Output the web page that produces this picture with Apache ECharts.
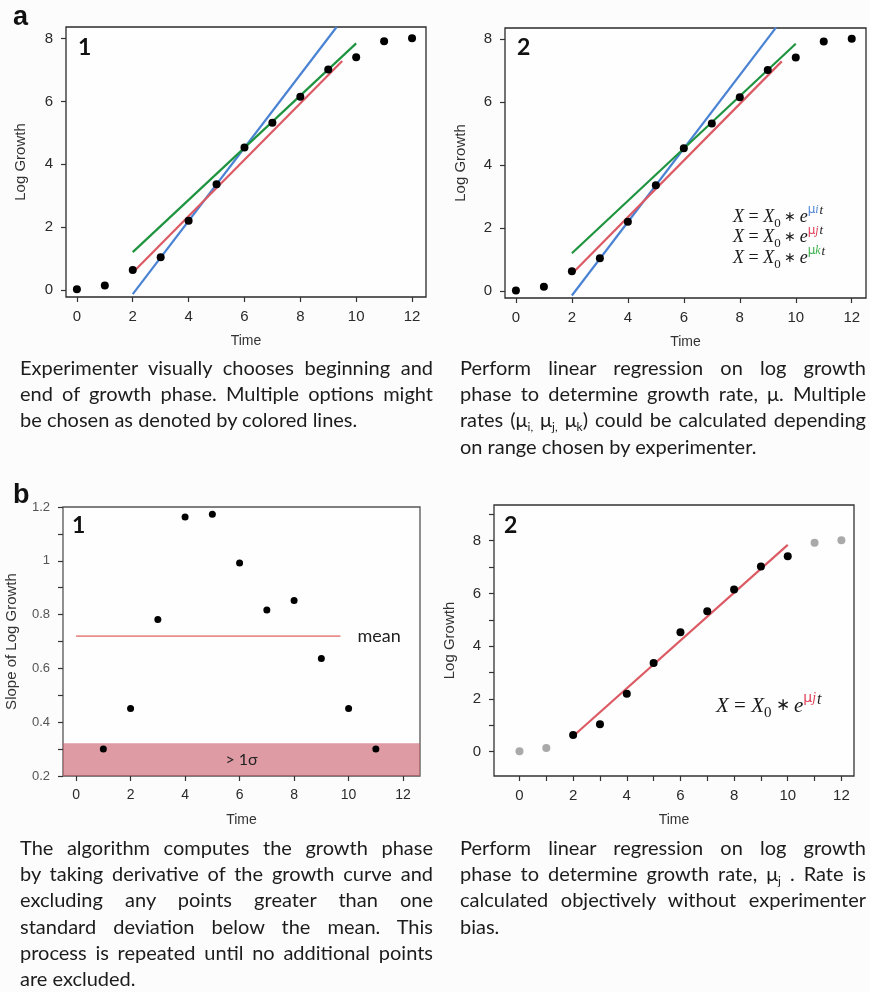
<!DOCTYPE html>
<html><head><meta charset="utf-8">
<script src="https://cdn.jsdelivr.net/npm/echarts@6/dist/echarts.min.js"></script>
<style>
html,body{margin:0;padding:0;background:#fcfcfd;}
#chart{position:absolute;left:0;top:0;width:870px;height:992px;}
.cap{position:absolute;font-family:Lato,'Open Sans',sans-serif;font-size:20px;color:#1c1c1c;white-space:nowrap;}
.cap div{height:26.2px;line-height:26.2px;text-align:justify;text-align-last:justify;}
.cap div.last{text-align-last:left;}
.cap sub{font-size:0.6em;vertical-align:-0.3em;line-height:0;}
</style></head>
<body>
<div id="chart"></div>
<div class="cap" style="left:20px;top:354px;width:413px">
<div>Experimenter visually chooses beginning and</div>
<div>end of growth phase. Multiple options might</div>
<div class="last">be chosen as denoted by colored lines.</div>
</div>
<div class="cap" style="left:460px;top:354px;width:406px">
<div>Perform linear regression on log growth</div>
<div>phase to determine growth rate, μ. Multiple</div>
<div>rates (μ<sub>i,</sub> μ<sub>j,</sub> μ<sub>k</sub>) could be calculated depending</div>
<div class="last">on range chosen by experimenter.</div>
</div>
<div class="cap" style="left:20px;top:834px;width:413px">
<div>The algorithm computes the growth phase</div>
<div>by taking derivative of the growth curve and</div>
<div>excluding any points greater than one</div>
<div>standard deviation below the mean. This</div>
<div>process is repeated until no additional points</div>
<div class="last">are excluded.</div>
</div>
<div class="cap" style="left:460px;top:834px;width:406px">
<div>Perform linear regression on log growth</div>
<div>phase to determine growth rate, μ<sub>j</sub> . Rate is</div>
<div>calculated objectively without experimenter</div>
<div class="last">bias.</div>
</div>
<script>
// ---- data ----
const timeValues = [0,1,2,3,4,5,6,7,8,9,10,11,12];
const logGrowth = [0.02,0.14,0.63,1.04,2.2,3.36,4.53,5.32,6.15,7.02,7.41,7.92,8.01];
const slopeTimes = [1,2,3,4,5,6,7,8,9,10,11];
const slopeValues = [0.30,0.451,0.782,1.163,1.173,0.992,0.817,0.852,0.637,0.451,0.30];
const fitBlue = [[2,-0.14],[9.3,8.37]];
const fitRedA = [[2.1,0.64],[9.5,7.29]];
const fitGreen = [[2,1.2],[10,7.85]];
const fitRedB = [[2.1,0.68],[10,7.84]];
const meanLine = [[0,0.72],[9.7,0.72]];
const sigmaBand = [0.2,0.322];
const excludedTimes = [0,1,11,12];
const timeTicks = [0,2,4,6,8,10,12];
const timeMinorTicks = [0,1,2,3,4,5,6,7,8,9,10,11,12];
const growthTicks = [0,2,4,6,8];
const growthMinorTicks = [0,1,2,3,4,5,6,7,8,9];
const slopeTicks = [0.2,0.4,0.6,0.8,1,1.2];
const slopeMinorTicks = [0.2,0.3,0.4,0.5,0.6,0.7,0.8,0.9,1,1.1,1.2];

const growthPts = timeValues.map((t,i)=>[t,logGrowth[i]]);
const slopePts = slopeTimes.map((t,i)=>[t,slopeValues[i]]);
const inPts = growthPts.filter(p=>excludedTimes.indexOf(p[0])<0);
const outPts = growthPts.filter(p=>excludedTimes.indexOf(p[0])>=0);

const BLUE='#4a82d4', RED='#dc5a64', GREEN='#1f9440';
const FONT='Liberation Sans';

function gridDef(left,top,width,height,border){
  return {left,top,width,height,show:true,borderColor:border||'#2a2a2a',borderWidth:1.3,backgroundColor:'#fefefe',outerBoundsMode:'none'};
}
function xAx(gi,min,max,ticks,labels,fs,gap){
  return {type:'value',gridIndex:gi,min,max,
    axisLine:{show:false,onZero:false},splitLine:{show:false},
    axisTick:{show:true,inside:false,length:5,customValues:ticks,lineStyle:{color:'#333',width:1.2}},
    axisLabel:{customValues:labels,margin:12,fontSize:fs,color:'#2a2a2a',fontFamily:FONT},
    name:'Time',nameLocation:'middle',nameGap:gap,nameTextStyle:{fontSize:14,color:'#333',fontFamily:FONT}};
}
function yAx(gi,min,max,ticks,labels,fs,name,gap,col){
  return {type:'value',gridIndex:gi,min,max,
    axisLine:{show:false,onZero:false},splitLine:{show:false},
    axisTick:{show:true,inside:false,length:5,customValues:ticks,lineStyle:{color:'#333',width:1.2}},
    axisLabel:{customValues:labels,margin:13,fontSize:fs,color:col||'#2a2a2a',fontFamily:FONT},
    name:name,nameLocation:'middle',nameGap:gap,nameRotate:90,nameTextStyle:{fontSize:15,color:'#333',fontFamily:FONT}};
}
function lineS(gi,data,color,z){
  return {type:'line',xAxisIndex:gi,yAxisIndex:gi,data,showSymbol:false,symbol:'none',
    lineStyle:{color,width:2.2},z:z||2,animation:false,silent:true};
}
function dotS(gi,data,color,size,z){
  return {type:'scatter',xAxisIndex:gi,yAxisIndex:gi,data,symbolSize:size,
    itemStyle:{color,opacity:1},z:z||4,animation:false,silent:true};
}
function eqText(x,y,size,col,sub){
  const L=size+8;
  const r=v=>Math.round(v);
  return {type:'text',x,y,style:{
    text:'{x|X}{o| = }{x|X}{s|0}{a| ∗ }{x|e}{m|μ}{mi|'+sub+'}{t|t}',
    verticalAlign:'middle',align:'left',
    rich:{
      x:{fontFamily:'Liberation Serif',fontStyle:'italic',fontSize:size,lineHeight:L,fill:'#1a1a1a'},
      o:{fontFamily:'Liberation Serif',fontSize:size,lineHeight:L,fill:'#1a1a1a'},
      a:{fontFamily:'Liberation Serif',fontSize:r(size*0.8),lineHeight:L,fill:'#1a1a1a'},
      s:{fontFamily:'Liberation Serif',fontSize:r(size*0.7),lineHeight:r(size*0.9),verticalAlign:'bottom',fill:'#1a1a1a'},
      m:{fontFamily:'DejaVu Sans',fontSize:r(size*0.66),lineHeight:r(size*0.85),verticalAlign:'top',fill:col},
      mi:{fontFamily:'Liberation Serif',fontStyle:'italic',fontSize:r(size*0.66),lineHeight:r(size*1.2),verticalAlign:'top',fill:col},
      t:{fontFamily:'Liberation Serif',fontStyle:'italic',fontSize:r(size*0.74),lineHeight:r(size*0.8),verticalAlign:'top',fill:'#1a1a1a',padding:[0,0,0,1]}
    }}};
}
function lab(x,y,t,fs,fam,weight){
  return {type:'text',x,y,style:{text:t,fontSize:fs,fontFamily:fam,fontWeight:weight||'bold',fill:'#111',verticalAlign:'middle',align:'left'}};
}

const chart = echarts.init(document.getElementById('chart'),null,{renderer:'canvas'});
chart.setOption({
  animation:false,
  backgroundColor:'transparent',
  grid:[gridDef(66,27,360,270),gridDef(505,28,361,270),gridDef(63,507,357,269,'#555'),gridDef(494,505,360,271,'#333')],
  xAxis:[
    xAx(0,-0.39,12.5,timeTicks,timeTicks,15,37),
    xAx(1,-0.39,12.51,timeTicks,timeTicks,15,37),
    xAx(2,-0.48,12.62,timeTicks,timeTicks,14,37),
    xAx(3,-0.95,12.47,timeMinorTicks,timeTicks,15,37)
  ],
  yAxis:[
    yAx(0,-0.23,8.37,growthTicks,growthTicks,15,'Log Growth',38),
    yAx(1,-0.22,8.35,growthTicks,growthTicks,15,'Log Growth',37),
    yAx(2,0.2,1.2,slopeMinorTicks,slopeTicks,13,'Slope of Log Growth',44,'#555'),
    yAx(3,-0.92,9.35,growthMinorTicks,growthTicks,15,'Log Growth',37)
  ],
  series:[
    lineS(0,fitBlue,BLUE),lineS(0,fitRedA,RED),lineS(0,fitGreen,GREEN),dotS(0,growthPts,'#000',8),
    lineS(1,fitBlue,BLUE),lineS(1,fitRedA,RED),lineS(1,fitGreen,GREEN),dotS(1,growthPts,'#000',8),
    dotS(2,slopePts,'#000',7,2),
    {type:'line',xAxisIndex:2,yAxisIndex:2,data:meanLine,showSymbol:false,symbol:'none',z:5,animation:false,silent:true,
     lineStyle:{color:'#ea8c8c',width:1.6},
     endLabel:{show:true,formatter:'mean',distance:17,fontSize:18,fontFamily:'Lato',color:'#222'},
     markArea:{silent:true,itemStyle:{color:'rgba(200,89,103,0.6)'},
       label:{show:true,position:'inside',formatter:'> 1σ',fontSize:16,fontFamily:'Lato',color:'#222'},
       data:[[{yAxis:sigmaBand[0]},{yAxis:sigmaBand[1]}]]}},
    dotS(3,outPts,'#a9a9a9',8),dotS(3,inPts,'#000',8),lineS(3,fitRedB,RED,3)
  ],
  graphic:[
    lab(13,18,'a',27,FONT),lab(13,496,'b',27,FONT),
    lab(78,48,'1',23,'Lato'),lab(517,48,'2',23,'Lato'),
    lab(72,526,'1',23,'Lato'),lab(504,526,'2',23,'Lato'),
    eqText(733,217,18,'#4f86d8','i'),eqText(733,237.5,18,'#e04058','j'),eqText(733,258,18,'#3cb04a','k'),
    eqText(716,706,21,'#e04058','j')
  ]
});
</script>
</body></html>
